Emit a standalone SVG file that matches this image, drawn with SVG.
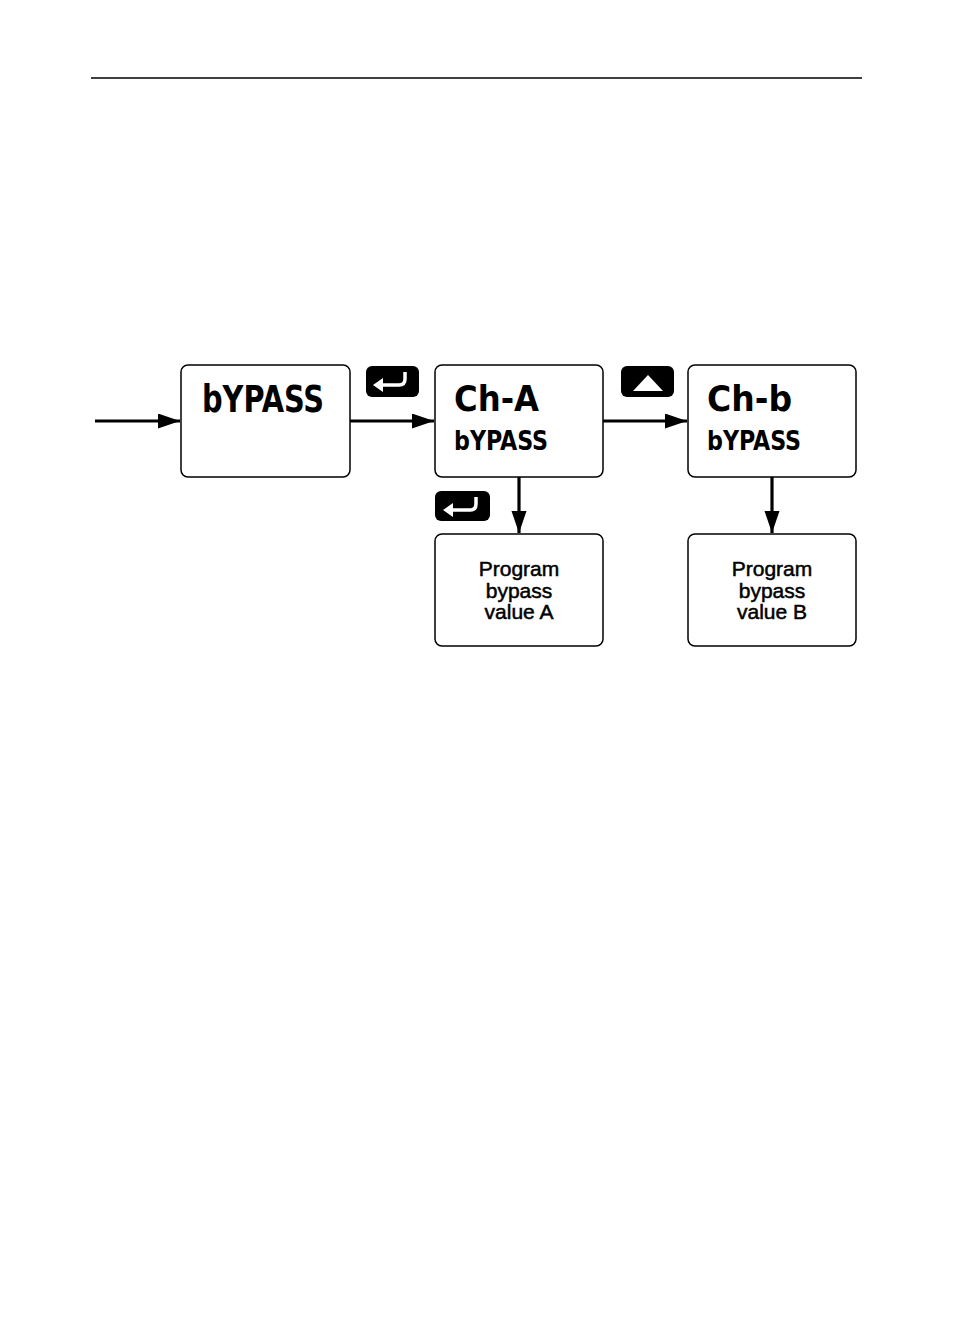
<svg xmlns="http://www.w3.org/2000/svg" width="954" height="1336" viewBox="0 0 954 1336">
<style>
.box{fill:#fff;stroke:#000;stroke-width:1.5}
.key{fill:#000}
.hook{fill:none;stroke:#fff;stroke-width:3.5}
.seg{font-family:"DejaVu Sans Condensed","DejaVu Sans",sans-serif;font-weight:bold;fill:#000}
.lbl{font-family:"Liberation Sans",Arial,sans-serif;font-size:21px;fill:#000;stroke:#000;stroke-width:0.5;text-anchor:middle}
.conn{stroke:#000;stroke-width:3.2;fill:none}
</style>
<defs>
<marker id="ah" markerUnits="userSpaceOnUse" markerWidth="23" markerHeight="16" refX="22" refY="7.5" orient="auto">
<path d="M0,0 L22,7.5 L0,15 Z" fill="#000"/>
</marker>
</defs>
<line x1="91" y1="78" x2="862" y2="78" stroke="#000" stroke-width="1.3"/>
<g id="connectors">
<line class="conn" x1="95" y1="421" x2="180" y2="421" marker-end="url(#ah)"/>
<line class="conn" x1="350" y1="421" x2="434" y2="421" marker-end="url(#ah)"/>
<line class="conn" x1="603" y1="421" x2="687" y2="421" marker-end="url(#ah)"/>
<line class="conn" x1="519" y1="477" x2="519" y2="533" marker-end="url(#ah)"/>
<line class="conn" x1="772" y1="477" x2="772" y2="533" marker-end="url(#ah)"/>
</g>
<g id="key-enter-1">
<rect class="key" x="366" y="366" width="53" height="31" rx="6"/>
<path class="hook" d="M405,372 V379 Q405,385 399,385 H382"/>
<polygon points="373,385 383,378 383,392" fill="#fff"/>
</g>
<g id="key-up">
<rect class="key" x="621" y="366" width="53" height="31" rx="6"/>
<polygon points="633,391 648,375 663,391" fill="#fff"/>
</g>
<g id="key-enter-2">
<rect class="key" x="435" y="491" width="55" height="30" rx="6"/>
<path class="hook" d="M476,497 V504 Q476,510 470,510 H452"/>
<polygon points="443,510 453,503 453,517" fill="#fff"/>
</g>
<g id="node-bypass">
<rect class="box" x="181" y="365" width="169" height="112" rx="7"/>
<text class="seg" x="202" y="412" font-size="37" textLength="122" lengthAdjust="spacingAndGlyphs">bYPASS</text>
</g>
<g id="node-cha">
<rect class="box" x="435" y="365" width="168" height="112" rx="7"/>
<text class="seg" x="454" y="411" font-size="36" textLength="85" lengthAdjust="spacingAndGlyphs">Ch-A</text>
<text class="seg" x="454" y="450" font-size="26" textLength="94" lengthAdjust="spacingAndGlyphs">bYPASS</text>
</g>
<g id="node-chb">
<rect class="box" x="688" y="365" width="168" height="112" rx="7"/>
<text class="seg" x="707" y="411" font-size="36" textLength="85" lengthAdjust="spacingAndGlyphs">Ch-b</text>
<text class="seg" x="707" y="450" font-size="26" textLength="94" lengthAdjust="spacingAndGlyphs">bYPASS</text>
</g>
<g id="node-program-a">
<rect class="box" x="435" y="534" width="168" height="112" rx="7"/>
<text class="lbl" x="519" y="576">Program</text>
<text class="lbl" x="519" y="598">bypass</text>
<text class="lbl" x="519" y="619">value A</text>
</g>
<g id="node-program-b">
<rect class="box" x="688" y="534" width="168" height="112" rx="7"/>
<text class="lbl" x="772" y="576">Program</text>
<text class="lbl" x="772" y="598">bypass</text>
<text class="lbl" x="772" y="619">value B</text>
</g>
</svg>
